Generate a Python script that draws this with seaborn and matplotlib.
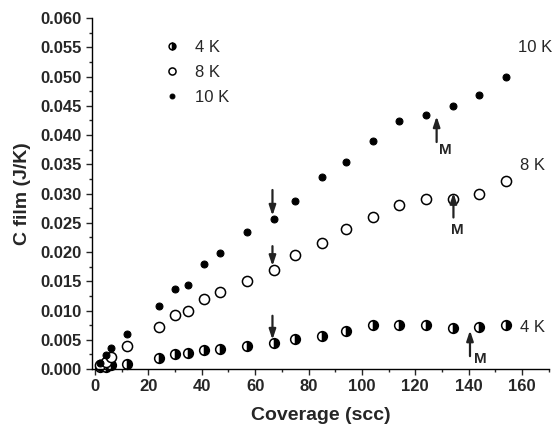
import matplotlib
matplotlib.use("Agg")
import matplotlib.pyplot as plt
import seaborn as sns
from matplotlib.ticker import MultipleLocator

# coverage (scc) and film heat capacity (J/K)
coverage = [2, 4, 6, 12, 24, 30, 35, 41, 47, 57, 67, 75, 85, 94, 104, 114, 124, 134, 144, 154]
c_10k = [0.0010, 0.0024, 0.0036, 0.0060, 0.0107, 0.0136, 0.0143, 0.0179, 0.0199, 0.0235, 0.0256,
         0.0288, 0.0328, 0.0354, 0.0389, 0.0424, 0.0434, 0.0449, 0.0469, 0.0499]
c_8k = [0.0006, 0.0012, 0.0021, 0.0040, 0.0072, 0.0093, 0.0100, 0.0120, 0.0132, 0.0150, 0.0170,
        0.0195, 0.0215, 0.0240, 0.0260, 0.0280, 0.0290, 0.0290, 0.0300, 0.0321]
c_4k = [0.0003, 0.0004, 0.0006, 0.0009, 0.0018, 0.0025, 0.0027, 0.0032, 0.0035, 0.0039, 0.0045,
        0.0052, 0.0056, 0.0065, 0.0075, 0.0076, 0.0075, 0.0070, 0.0072, 0.0075]

# arrows at the break (x, tail y, head y) and the "M" marks
down_x = [66.5, 66.5, 66.5]
down_tail = [0.0306, 0.0210, 0.0091]
down_head = [0.0262, 0.0176, 0.0050]
m_x = [128, 134.3, 140.5]
m_tail = [0.0388, 0.0259, 0.0022]
m_head = [0.0432, 0.0301, 0.0066]
m_text_x = [131.4, 135.7, 144.2]
m_text_y = [0.0374, 0.0237, 0.0017]

series_names = ["10 K", "8 K", "4 K"]
name_x = [164.9, 164.0, 164.0]
name_y = [0.0549, 0.0348, 0.0071]


def main():
    sns.set_style("ticks")
    plt.rcParams["font.family"] = ["Liberation Sans", "DejaVu Sans"]

    fig = plt.figure(figsize=(5.55, 4.26), dpi=100)
    ax = fig.add_axes([0.1663, 0.1338, 0.8224, 0.8239])

    sns.lineplot(x=coverage, y=c_4k, ax=ax, linestyle="", marker="o", markersize=7.0,
                 fillstyle="right", color="black", markerfacecoloralt="white",
                 markeredgecolor="black", markeredgewidth=1.1, label="4 K", clip_on=False)
    sns.lineplot(x=coverage, y=c_8k, ax=ax, linestyle="", marker="o", markersize=7.3,
                 markerfacecolor="white", markeredgecolor="black", color="black",
                 markeredgewidth=1.1, label="8 K", clip_on=False)
    sns.lineplot(x=coverage, y=c_10k, ax=ax, linestyle="", marker="o", markersize=5.0,
                 color="black", markeredgecolor="black", label="10 K", clip_on=False)

    for x, t, h in zip(down_x, down_tail, down_head):
        ax.annotate("", xy=(x, h), xytext=(x, t),
                    arrowprops=dict(arrowstyle="-|>,head_length=0.6,head_width=0.2",
                                    color="#222222", lw=1.6, shrinkA=0, shrinkB=0))
    for x, t, h, tx, ty in zip(m_x, m_tail, m_head, m_text_x, m_text_y):
        ax.annotate("", xy=(x, h), xytext=(x, t),
                    arrowprops=dict(arrowstyle="-|>,head_length=0.6,head_width=0.2",
                                    color="#222222", lw=1.6, shrinkA=0, shrinkB=0))
        ax.text(tx, ty, "M", fontsize=11, fontweight="bold", ha="center", va="center")

    for name, x, y in zip(series_names, name_x, name_y):
        ax.text(x, y, name, fontsize=12, ha="center", va="center")

    ax.xaxis.set_minor_locator(MultipleLocator(10))
    ax.yaxis.set_major_locator(MultipleLocator(0.005))
    ax.yaxis.set_minor_locator(MultipleLocator(0.0025))
    ax.set_xticks(range(0, 161, 20))
    ax.set_xlim(-1, 170)
    ax.set_ylim(0, 0.060)
    ax.yaxis.set_major_formatter(matplotlib.ticker.FormatStrFormatter("%.3f"))
    ax.tick_params(which="major", direction="out", length=4, width=1, labelsize=12)
    ax.tick_params(which="minor", direction="out", length=2.5, width=1)
    for lab in ax.get_xticklabels() + ax.get_yticklabels():
        lab.set_fontweight("bold")

    sns.despine(ax=ax)
    for s in ["left", "bottom"]:
        ax.spines[s].set_linewidth(1.0)
        ax.spines[s].set_color("black")

    ax.set_xlabel("Coverage (scc)", fontsize=14, fontweight="bold", labelpad=9)
    ax.set_ylabel("C film (J/K)", fontsize=14, fontweight="bold", labelpad=7)

    ax.legend(loc="upper left", bbox_to_anchor=(0.12, 0.98), frameon=False, fontsize=12,
              markerscale=0.7, handlelength=1.2, handletextpad=0.8, labelspacing=0.6)

    fig.savefig("out.png", dpi=100)


if __name__ == "__main__":
    main()
